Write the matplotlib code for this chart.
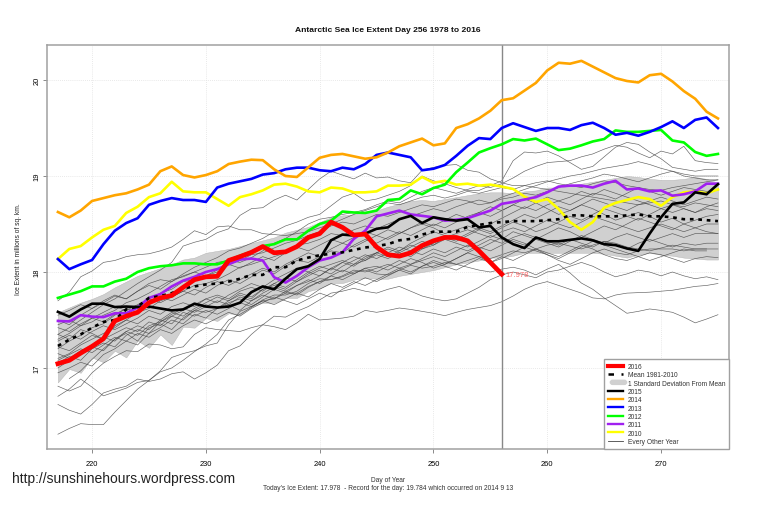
import matplotlib
matplotlib.use("Agg")
import matplotlib.pyplot as plt
from matplotlib.lines import Line2D
from matplotlib.patches import FancyBboxPatch, Patch
from matplotlib.legend_handler import HandlerPatch

plt.rcParams['font.family'] = ['Liberation Sans', 'DejaVu Sans']

days = list(range(217, 276))
nan = float('nan')

y2016 = [17.045,17.08,17.155,17.225,17.305,17.49,17.54,17.58,17.68,17.73,17.755,17.84,17.92,17.95,17.955,
         18.12,18.16,18.205,18.265,18.20,18.21,18.265,18.36,18.40,18.52,18.465,18.385,18.395,18.26,
         18.18,18.165,18.20,18.275,18.325,18.36,18.36,18.325,18.22,18.10,17.978]
y2015 = [17.585,17.535,17.61,17.67,17.67,17.635,17.64,17.635,17.64,17.62,17.60,17.61,17.67,17.64,17.63,
         17.64,17.68,17.79,17.85,17.82,17.93,18.03,18.06,18.135,18.33,18.39,18.38,18.40,18.45,
         18.465,18.55,18.585,18.51,18.57,18.55,18.535,18.55,18.465,18.48,18.36,18.29,18.25,18.36,18.32,
         18.32,18.335,18.35,18.33,18.29,18.28,18.245,18.22,18.40,18.57,18.71,18.725,18.83,18.81,18.915]
y2014 = [18.625,18.57,18.64,18.74,18.77,18.80,18.82,18.86,18.91,19.05,19.10,19.01,18.985,19.01,19.05,
         19.125,19.15,19.17,19.165,19.07,19.0,18.99,19.09,19.19,19.22,19.23,19.205,19.18,19.195,
         19.245,19.31,19.35,19.39,19.32,19.34,19.50,19.54,19.60,19.68,19.79,19.81,19.89,19.97,20.10,
         20.18,20.17,20.20,20.14,20.08,20.02,19.99,19.975,20.05,20.065,19.985,19.885,19.805,19.67,19.60]
y2013 = [18.135,18.03,18.08,18.125,18.29,18.43,18.51,18.56,18.70,18.74,18.77,18.75,18.75,18.73,18.88,
         18.92,18.945,18.97,19.015,19.03,19.07,19.087,19.087,19.06,19.05,19.087,19.07,19.125,19.22,
         19.245,19.22,19.195,19.06,19.076,19.115,19.21,19.315,19.395,19.385,19.50,19.55,19.51,19.47,19.50,
         19.50,19.48,19.53,19.555,19.50,19.43,19.45,19.42,19.46,19.51,19.57,19.50,19.585,19.61,19.50]
y2012 = [17.73,17.765,17.80,17.85,17.85,17.90,17.93,18.0,18.04,18.06,18.07,18.09,18.09,18.08,18.08,
         18.12,18.17,18.21,18.27,18.29,18.34,18.34,18.43,18.50,18.535,18.63,18.62,18.615,18.64,
         18.75,18.76,18.85,18.81,18.875,18.91,19.04,19.14,19.245,19.29,19.33,19.385,19.37,19.39,19.33,
         19.27,19.285,19.32,19.36,19.385,19.475,19.46,19.46,19.47,19.48,19.37,19.35,19.25,19.21,19.23]
y2011 = [17.49,17.485,17.55,17.535,17.53,17.57,17.57,17.63,17.73,17.77,17.85,17.91,17.95,18.0,18.03,
         18.08,18.13,18.14,18.12,17.945,17.89,17.96,18.05,18.12,18.15,18.205,18.345,18.43,18.58,
         18.61,18.64,18.60,18.585,18.57,18.535,18.545,18.56,18.60,18.64,18.71,18.73,18.755,18.78,18.83,
         18.89,18.90,18.90,18.88,18.92,18.95,18.86,18.87,18.84,18.85,18.795,18.81,18.84,18.92,18.92]
y2010 = [18.135,18.24,18.27,18.36,18.44,18.48,18.615,18.68,18.78,18.82,18.94,18.84,18.83,18.83,18.76,
         18.69,18.78,18.81,18.85,18.91,18.92,18.89,18.84,18.83,18.88,18.87,18.83,18.83,18.84,
         18.90,18.90,18.91,18.99,18.93,18.95,18.91,18.92,18.90,18.91,18.89,18.865,18.785,18.73,18.76,
         18.655,18.52,18.44,18.52,18.67,18.72,18.75,18.78,18.76,18.69,18.78,18.83,18.84,18.82,18.86]
mean_1981_2010 = [17.23,17.295,17.35,17.42,17.48,17.50,17.61,17.64,17.73,17.75,17.78,17.83,17.85,17.87,17.88,
                  17.90,17.93,17.97,17.97,18.05,18.05,18.12,18.15,18.175,18.19,18.205,18.23,18.255,18.27,
                  18.29,18.33,18.345,18.39,18.42,18.42,18.42,18.47,18.49,18.51,18.52,18.53,18.53,18.53,18.54,
                  18.55,18.59,18.59,18.58,18.58,18.58,18.59,18.60,18.58,18.58,18.57,18.55,18.55,18.54,18.53]
sd_upper = [17.58,17.63,17.68,17.72,17.77,17.84,17.90,17.96,18.00,18.04,18.08,18.13,18.15,18.20,18.22,
            18.24,18.27,18.30,18.33,18.36,18.41,18.44,18.47,18.52,18.57,18.59,18.60,18.63,18.64,
            18.68,18.71,18.74,18.75,18.74,18.76,18.78,18.80,18.82,18.83,18.83,18.82,18.84,18.85,18.88,
            18.88,18.90,18.92,18.94,18.96,18.98,19.0,18.99,18.97,18.96,18.96,18.97,18.99,18.97,18.93]
sd_lower = [16.85,16.99,16.95,17.11,17.06,17.18,17.11,17.285,17.21,17.35,17.24,17.43,17.42,17.52,17.49,
            17.57,17.555,17.64,17.68,17.68,17.73,17.73,17.80,17.83,17.885,17.885,17.92,17.94,17.93,
            17.93,17.96,17.98,18.0,18.02,18.05,18.08,18.10,18.12,18.15,18.15,18.17,18.20,18.20,18.20,
            18.20,18.20,18.20,18.20,18.19,18.17,18.15,18.18,18.20,18.18,18.17,18.15,18.14,18.13,18.13]

other_01 = [16.31,16.37,16.42,16.41,16.41,16.54,16.66,16.78,16.87,16.96,17.0,17.08,17.17,17.25,17.35,
            17.50,17.56,17.63,17.71,17.76,17.76,17.80,17.88,17.93,17.92,17.95,18.0,18.02,17.98,
            17.97,18.02,18.07,18.04,18.06,18.10,18.08,18.12,18.16,18.14,18.18,18.22,18.20,18.24,18.28,
            18.30,18.27,18.24,18.28,18.32,18.30,18.26,18.24,18.22,18.25,18.28,18.26,18.24,18.24,18.24]
other_02 = [16.62,16.56,16.52,16.62,16.74,16.78,16.81,16.885,16.86,16.885,16.94,16.96,16.885,16.95,17.03,
            17.18,17.23,17.35,17.45,17.54,17.53,17.59,17.64,17.71,17.78,17.80,17.83,17.80,17.78,
            17.82,17.85,17.80,17.75,17.72,17.70,17.72,17.78,17.84,17.92,17.97,18.0,17.97,17.94,18.0,
            18.02,18.06,18.10,18.06,18.0,17.95,17.98,18.02,18.0,17.96,18.0,17.96,17.93,17.95,17.92]
other_03 = [16.705,16.78,16.885,16.80,16.71,16.75,16.79,16.85,16.87,16.97,17.11,17.15,17.18,17.23,17.26,
            17.45,17.59,17.64,17.70,17.72,17.78,17.78,17.85,17.90,17.92,17.96,18.02,18.0,18.04,
            18.08,18.04,18.08,18.12,18.16,18.12,18.08,18.05,18.02,18.0,18.03,18.05,18.02,17.97,18.03,
            18.08,17.99,17.885,17.82,17.73,17.65,17.57,17.59,17.615,17.60,17.58,17.53,17.47,17.51,17.555]
other_04 = [16.81,16.76,16.81,16.95,17.05,17.12,17.18,17.17,17.25,17.24,17.20,17.22,17.35,17.42,17.40,
            17.39,17.38,17.42,17.45,17.43,17.40,17.47,17.56,17.50,17.51,17.52,17.54,17.60,17.58,
            17.60,17.625,17.61,17.59,17.57,17.545,17.58,17.61,17.63,17.65,17.69,17.75,17.82,17.87,17.90,
            17.86,17.82,17.78,17.73,17.72,17.76,17.78,17.785,17.79,17.80,17.81,17.83,17.85,17.86,17.88]
other_05 = [nan,16.89,16.97,17.09,17.20,17.30,17.36,17.28,17.42,17.46,17.40,17.52,17.60,17.58,17.62,
            17.68,17.72,17.66,17.74,17.82,17.78,17.86,17.92,17.88,17.96,18.02,17.98,18.04,18.06,
            18.02,18.08,18.14,18.10,18.04,18.08,18.14,18.20,18.16,18.10,18.14,18.20,18.26,18.22,18.18,
            18.12,18.08,18.14,18.20,18.24,18.20,18.18,18.22,18.24,18.24,18.24,18.22,18.24,18.24,nan]
other_06 = [17.70,17.79,17.95,18.01,18.10,18.12,18.16,18.18,18.19,18.22,18.26,18.34,18.43,18.39,18.47,
            18.48,18.44,18.44,18.40,18.39,18.38,18.40,18.42,18.46,18.50,18.55,18.60,18.64,18.68,
            18.72,18.70,18.74,18.78,18.80,18.77,18.80,18.84,18.82,18.85,18.88,18.86,18.90,18.93,18.95,
            18.92,18.90,18.88,18.92,18.95,18.93,18.90,18.88,18.86,18.85,18.88,18.90,18.92,18.94,18.96]
other_07 = [17.35,17.42,17.50,17.58,17.66,17.72,17.80,17.88,17.95,18.02,18.10,18.27,18.31,18.34,18.41,
            18.45,18.59,18.66,18.67,18.75,18.80,18.75,18.86,18.97,19.05,19.01,18.97,19.03,18.98,
            18.99,18.95,18.93,19.06,19.09,19.11,19.12,19.06,19.04,18.97,18.93,18.90,18.90,18.88,18.86,
            18.84,18.82,18.80,18.78,18.76,18.74,18.72,18.70,18.72,18.74,18.70,18.68,18.72,18.70,18.68]
other_08 = [17.50,17.45,17.55,17.62,17.68,17.75,17.72,17.80,17.88,17.92,17.90,17.98,18.05,18.10,18.15,
            18.22,18.25,18.30,18.35,18.42,18.48,18.52,18.57,18.60,18.69,18.78,18.82,18.74,18.76,
            18.80,18.84,18.90,19.00,18.95,18.92,18.88,18.85,18.85,18.90,18.95,19.16,19.25,19.24,19.26,
            19.21,19.14,19.07,19.10,19.20,19.30,19.35,19.33,19.25,19.18,19.09,19.07,19.05,19.07,19.07]
other_09 = [17.30,17.36,17.44,17.48,17.55,17.60,17.68,17.72,17.78,17.85,17.92,17.95,18.0,18.05,18.10,
            18.12,18.10,18.15,18.22,18.30,18.35,18.42,18.50,18.55,18.57,18.60,18.62,18.65,18.70,
            18.74,18.72,18.78,18.84,18.88,18.85,18.82,18.86,18.90,18.88,18.92,18.98,19.05,19.10,19.14,
            19.15,19.16,19.20,19.23,19.28,19.32,19.30,19.24,19.19,19.26,19.23,19.31,19.16,19.14,19.13]
other_10 = [17.20,17.28,17.34,17.42,17.46,17.55,17.62,17.65,17.72,17.78,17.82,17.90,17.92,17.96,18.0,
            18.08,18.12,18.18,18.20,18.25,18.30,18.33,18.38,18.42,18.48,18.52,18.50,18.55,18.60,
            18.58,18.62,18.66,18.70,18.68,18.72,18.76,18.74,18.70,18.72,18.78,18.82,18.86,18.90,18.94,
            18.97,19.0,19.02,19.05,19.08,19.10,19.12,19.15,19.12,19.08,19.05,19.02,19.0,19.0,19.0]
other_11 = [17.10,17.15,17.24,17.30,17.36,17.42,17.50,17.58,17.62,17.70,17.74,17.80,17.86,17.88,17.92,
            17.98,18.05,18.08,18.12,18.16,18.20,18.28,18.30,18.34,18.40,18.38,18.44,18.48,18.45,
            18.50,18.55,18.58,18.62,18.66,18.63,18.68,18.72,18.75,18.72,18.76,18.78,18.82,18.80,18.84,
            18.88,18.92,18.95,18.98,19.02,19.0,18.97,18.94,18.98,19.02,19.05,19.0,18.98,18.96,18.96]
other_12 = [17.42,17.38,17.46,17.52,17.48,17.56,17.62,17.58,17.66,17.74,17.70,17.76,17.82,17.78,17.86,
            17.92,17.88,17.95,18.02,17.98,18.06,18.12,18.10,18.16,18.22,18.20,18.28,18.34,18.30,
            18.36,18.42,18.38,18.44,18.50,18.46,18.52,18.58,18.62,18.58,18.64,18.70,18.66,18.72,18.78,
            18.74,18.70,18.76,18.82,18.80,18.76,18.82,18.88,18.84,18.80,18.84,18.88,18.86,18.84,18.85]
other_13 = [17.05,17.12,17.08,17.20,17.26,17.22,17.34,17.40,17.36,17.48,17.54,17.50,17.60,17.66,17.62,
            17.70,17.76,17.72,17.82,17.88,17.84,17.92,18.0,17.96,18.04,18.10,18.06,18.14,18.20,
            18.16,18.22,18.28,18.24,18.30,18.36,18.32,18.38,18.44,18.40,18.46,18.52,18.48,18.42,18.46,
            18.52,18.58,18.54,18.60,18.66,18.62,18.58,18.54,18.60,18.66,18.70,18.66,18.62,18.68,18.72]
other_14 = [16.95,17.0,17.06,17.02,17.14,17.20,17.28,17.24,17.36,17.42,17.50,17.46,17.56,17.52,17.62,
            17.66,17.60,17.70,17.76,17.72,17.80,17.86,17.90,17.96,18.04,18.0,18.08,18.12,18.18,
            18.14,18.20,18.16,18.24,18.28,18.34,18.30,18.26,18.32,18.38,18.34,18.42,18.38,18.34,18.40,
            18.46,18.42,18.36,18.42,18.48,18.44,18.50,18.56,18.52,18.48,18.44,18.50,18.54,18.58,18.60]
other_15 = [17.28,17.34,17.30,17.38,17.44,17.40,17.46,17.52,17.60,17.56,17.64,17.68,17.64,17.72,17.76,
            17.72,17.80,17.84,17.80,17.88,17.94,17.90,17.98,18.04,18.08,18.12,18.08,18.16,18.20,
            18.24,18.20,18.26,18.32,18.28,18.36,18.40,18.44,18.40,18.36,18.42,18.46,18.42,18.48,18.54,
            18.50,18.46,18.52,18.58,18.54,18.50,18.46,18.42,18.46,18.50,18.46,18.42,18.46,18.50,18.50]
other_16 = [17.15,17.10,17.18,17.24,17.32,17.28,17.38,17.34,17.44,17.48,17.56,17.62,17.58,17.64,17.70,
            17.66,17.74,17.70,17.78,17.84,17.80,17.76,17.84,17.90,17.96,17.92,17.98,18.04,18.0,
            18.06,18.12,18.08,18.14,18.20,18.16,18.22,18.28,18.24,18.30,18.36,18.32,18.28,18.34,18.30,
            18.26,18.32,18.38,18.34,18.30,18.36,18.40,18.36,18.32,18.36,18.40,18.36,18.40,18.40,18.40]
other_17 = [17.35,17.30,17.40,17.36,17.30,17.44,17.50,17.46,17.54,17.50,17.58,17.54,17.62,17.68,17.74,
            17.70,17.78,17.74,17.82,17.86,17.82,17.90,17.96,18.02,17.98,18.06,18.12,18.18,18.14,
            18.20,18.26,18.22,18.18,18.24,18.20,18.26,18.22,18.28,18.34,18.30,18.36,18.40,18.36,18.32,
            18.28,18.34,18.30,18.26,18.32,18.28,18.24,18.30,18.34,18.30,18.26,18.30,18.28,18.30,18.30]
other_18 = [17.00,17.08,17.16,17.22,17.18,17.30,17.38,17.44,17.40,17.50,17.46,17.58,17.54,17.60,17.56,
            17.62,17.68,17.64,17.70,17.66,17.72,17.78,17.74,17.82,17.88,17.84,17.90,17.86,17.92,
            17.98,18.04,18.0,18.06,18.12,18.08,18.14,18.20,18.26,18.22,18.28,18.34,18.30,18.24,18.18,
            18.14,18.20,18.26,18.32,18.28,18.24,18.20,18.16,18.12,18.16,18.20,18.24,18.22,18.22,nan]
other_19 = [17.45,17.50,17.44,17.52,17.58,17.64,17.60,17.66,17.72,17.68,17.74,17.80,17.76,17.84,17.90,
            17.86,17.92,17.98,18.04,18.0,18.08,18.14,18.20,18.16,18.24,18.30,18.26,18.32,18.38,
            18.34,18.40,18.46,18.52,18.48,18.54,18.60,18.56,18.62,18.68,18.64,18.70,18.76,18.72,18.66,
            18.60,18.64,18.70,18.66,18.60,18.54,18.58,18.62,18.58,18.52,18.56,18.50,18.46,18.42,18.40]
other_20 = [17.22,17.18,17.26,17.34,17.30,17.36,17.42,17.38,17.48,17.44,17.54,17.60,17.66,17.72,17.68,
            17.76,17.82,17.88,17.84,17.92,17.98,18.04,18.0,18.06,18.02,18.10,18.16,18.12,18.20,
            18.26,18.22,18.30,18.36,18.42,18.38,18.34,18.40,18.46,18.42,18.48,18.54,18.60,18.56,18.62,
            18.68,18.64,18.70,18.76,18.72,18.68,18.64,18.70,18.74,18.78,18.74,18.70,18.74,18.78,18.76]
other_21 = [17.08,17.14,17.20,17.16,17.24,17.32,17.28,17.36,17.32,17.40,17.36,17.44,17.50,17.46,17.52,
            17.58,17.54,17.62,17.68,17.74,17.70,17.66,17.72,17.78,17.74,17.82,17.88,17.94,17.90,
            17.96,18.02,17.98,18.06,18.10,18.06,18.02,18.08,18.14,18.10,18.16,18.12,18.18,18.24,18.20,
            18.16,18.22,18.28,18.24,18.18,18.14,18.12,18.16,18.20,18.18,18.14,18.10,18.14,18.16,18.15]
other_22 = [17.55,17.60,17.66,17.62,17.70,17.76,17.72,17.80,17.86,17.82,17.90,17.96,18.0,17.96,18.02,
            18.08,18.04,18.10,18.16,18.12,18.20,18.26,18.22,18.28,18.34,18.30,18.36,18.42,18.38,
            18.44,18.40,18.46,18.50,18.46,18.40,18.44,18.48,18.44,18.50,18.56,18.62,18.68,18.64,18.70,
            18.74,18.78,18.84,18.80,18.86,18.82,18.78,18.74,18.70,18.66,18.62,18.66,18.62,18.66,18.64]

other_years = [other_01, other_02, other_03, other_04, other_05, other_06, other_07, other_08,
               other_09, other_10, other_11, other_12, other_13, other_14, other_15, other_16,
               other_17, other_18, other_19, other_20, other_21, other_22]

legend_labels = ['2016', 'Mean 1981-2010', '1 Standard Deviation From Mean', '2015', '2014',
                 '2013', '2012', '2011', '2010', 'Every Other Year']
title = 'Antarctic Sea Ice Extent Day 256 1978 to 2016'
today_value = 17.978
today_day = 256

W, H = 760, 506
fig = plt.figure(figsize=(W/100, H/100), dpi=100)
ax = fig.add_axes([47/W, 1-450/H, (729-47)/W, (450-46)/H])
ax.set_xlim(216.04, 275.97)
ax.set_ylim(16.156, 20.365)
ax.set_xticks([220, 230, 240, 250, 260, 270])
ax.set_yticks([17, 18, 19, 20])
ax.grid(True, color='#e2e2e2', linestyle=(0, (1, 1.5)), linewidth=0.6)
ax.set_axisbelow(True)
for s in ax.spines.values():
    s.set_color('#a0a0a0')
    s.set_linewidth(1.1)
ax.tick_params(axis='both', length=3, width=0.6, color='#777777', labelsize=5.4, labelcolor='#000000')
ax.tick_params(axis='x', pad=5)
ax.tick_params(axis='y', pad=1.5)
for t in ax.get_yticklabels():
    t.set_rotation(90)
    t.set_va('center')

ax.fill_between(days, sd_lower, sd_upper, facecolor='#d0d0d0', edgecolor='#b0b0b0', linewidth=0.3, zorder=1)
for series in other_years:
    ax.plot(days[:len(series)], series, color='#444444', linewidth=0.45, alpha=0.85, zorder=2)

ax.axvline(today_day, color='#888888', linewidth=1.0, zorder=2.5)
ax.plot(days, y2010, color='#ffff00', linewidth=1.9, zorder=3, solid_joinstyle='round')
ax.plot(days, y2011, color='#a020f0', linewidth=1.9, zorder=3.1, solid_joinstyle='round')
ax.plot(days, y2012, color='#00ff00', linewidth=1.9, zorder=3.2, solid_joinstyle='round')
ax.plot(days, y2013, color='#0000ff', linewidth=1.9, zorder=3.3, solid_joinstyle='round')
ax.plot(days, y2014, color='#ffa500', linewidth=1.9, zorder=3.4, solid_joinstyle='round')
ax.plot(days, y2015, color='#000000', linewidth=1.9, zorder=3.5, solid_joinstyle='round')
ax.plot(days, mean_1981_2010, color='#000000', linewidth=1.9, linestyle=(0, (1.4, 1.8)), zorder=3.6)
ax.plot(days[:len(y2016)], y2016, color='#ff0000', linewidth=3.4, zorder=4, solid_joinstyle='round')
ax.text(today_day + 0.35, today_value, '%.3f' % today_value, color='#ff6666', fontsize=5.4,
        va='center', ha='left', zorder=5)


def rounded_patch(legend, orig_handle, xdescent, ydescent, width, height, fontsize):
    return FancyBboxPatch((-xdescent + 1.5, -ydescent - 0.3), width + 2, height + 0.6,
                          boxstyle='round,pad=0,rounding_size=2.2', mutation_aspect=1)


handles = [
    Line2D([], [], color='#ff0000', lw=3.0),
    Line2D([], [], color='#000000', lw=1.8, linestyle=(0, (2.2, 3.0))),
    Patch(facecolor='#d0d0d0', edgecolor='none'),
    Line2D([], [], color='#000000', lw=1.7),
    Line2D([], [], color='#ffa500', lw=1.7),
    Line2D([], [], color='#0000ff', lw=1.7),
    Line2D([], [], color='#00ff00', lw=1.7),
    Line2D([], [], color='#a020f0', lw=1.7),
    Line2D([], [], color='#ffff00', lw=1.7),
    Line2D([], [], color='#444444', lw=0.6),
]
leg = ax.legend(handles, legend_labels, loc='lower right', bbox_to_anchor=(1, 0), borderaxespad=0,
                fontsize=4.8, fancybox=False, framealpha=1, edgecolor='#a0a0a0', labelspacing=0.2,
                handlelength=2.25, handletextpad=0.75, borderpad=0.6, labelcolor='#333333',
                handler_map={Patch: HandlerPatch(patch_func=rounded_patch)})
leg.get_frame().set_linewidth(1.0)
leg.set_zorder(6)

fig.text(387.5/W, 1-31/H, title, ha='center', va='center', fontsize=6.1, fontweight='bold', color='#111111')
ax.text(-0.0425, 0.4975, 'Ice Extent in millions of sq. km.', transform=ax.transAxes, rotation=90,
        ha='center', va='center', fontsize=4.8, color='#222222')
fig.text(388/W, 1-480.5/H, 'Day of Year', ha='center', va='center', fontsize=4.8, color='#333333')
fig.text(388/W, 1-488.5/H, "Today's Ice Extent: 17.978  - Record for the day: 19.784 which occurred on 2014 9 13",
         ha='center', va='center', fontsize=4.8, color='#333333')
fig.text(12/W, 1-479/H, 'http://sunshinehours.wordpress.com', ha='left', va='center', fontsize=10.0, color='#222222')

fig.savefig('out.png', dpi=100, facecolor='white')
